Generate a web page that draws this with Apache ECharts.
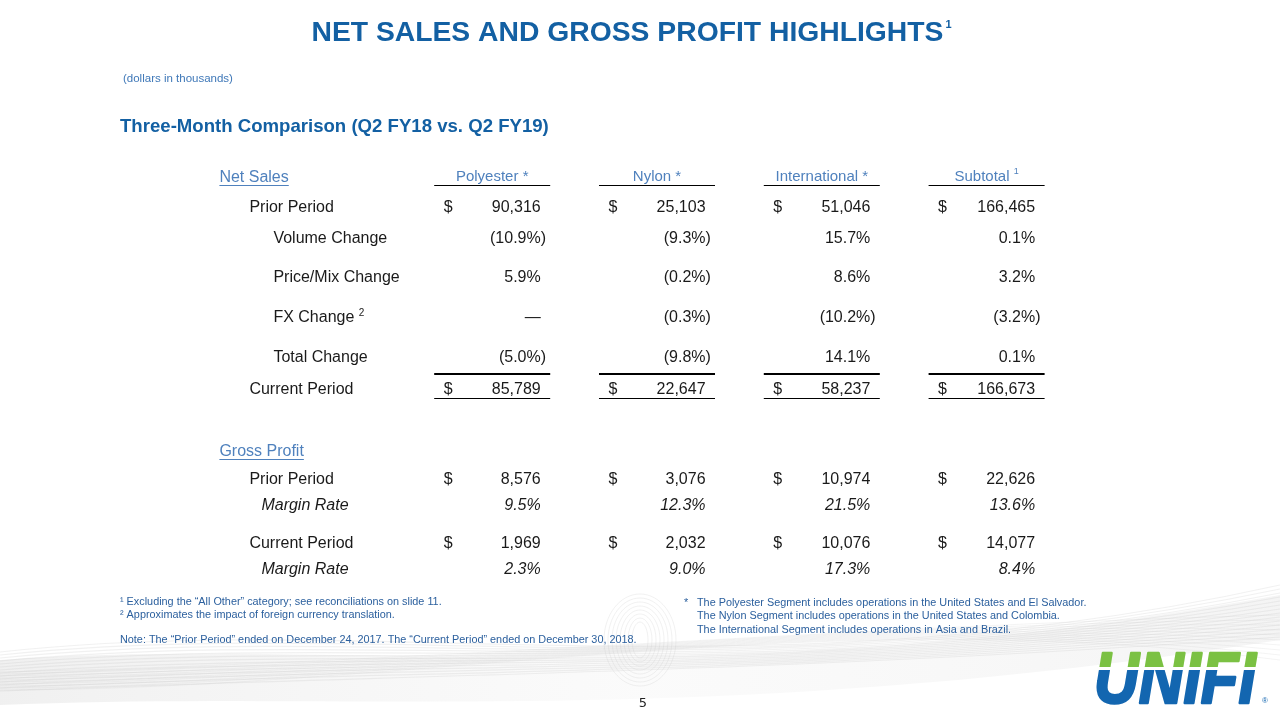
<!DOCTYPE html>
<html><head><meta charset="utf-8">
<script src="https://cdn.jsdelivr.net/npm/echarts@6/dist/echarts.min.js"></script>
<style>html,body{margin:0;padding:0;background:#fff}#c{width:1280px;height:720px}</style>
</head><body><div id="c"></div>
<script>
// ---------------- DATA ----------------
const segments = ['Polyester *', 'Nylon *', 'International *', 'Subtotal'];
const segmentNotes = ['', '', '', '1'];
const netPrior = [90316, 25103, 51046, 166465];
const volumeChange = [-10.9, -9.3, 15.7, 0.1];
const priceMixChange = [5.9, -0.2, 8.6, 3.2];
const fxChange = [null, -0.3, -10.2, -3.2];
const totalChange = [-5.0, -9.8, 14.1, 0.1];
const netCurrent = [85789, 22647, 58237, 166673];
const gpPrior = [8576, 3076, 10974, 22626];
const gpPriorMargin = [9.5, 12.3, 21.5, 13.6];
const gpCurrent = [1969, 2032, 10076, 14077];
const gpCurrentMargin = [2.3, 9.0, 17.3, 8.4];

// ---------------- LAYOUT / STYLE ----------------
const FONT = '"Liberation Sans", Arial, Helvetica, sans-serif';
const INK = '#1a1a1a';
const HEAD_BLUE = '#4f81bd';
const TITLE_BLUE = '#1360a3';
const NOTE_BLUE = '#2c609e';
const BODY = 16;
const NOTE = 10.85;
const DY = 1.5;

const rows = [
  {kind: 'section', label: 'Net Sales', y: 176, indent: -108},
  {label: 'Prior Period', y: 206, indent: -78, values: netPrior, fmt: 'money', dollar: true},
  {label: 'Volume Change', y: 237, indent: -54, values: volumeChange, fmt: 'pct'},
  {label: 'Price/Mix Change', y: 276, indent: -54, values: priceMixChange, fmt: 'pct'},
  {label: 'FX Change', sup: '2', y: 316, indent: -54, values: fxChange, fmt: 'pct'},
  {label: 'Total Change', y: 356, indent: -54, values: totalChange, fmt: 'pct'},
  {label: 'Current Period', y: 388, indent: -78, values: netCurrent, fmt: 'money', dollar: true},
  {kind: 'section', label: 'Gross Profit', y: 450, indent: -108},
  {label: 'Prior Period', y: 478, indent: -78, values: gpPrior, fmt: 'money', dollar: true},
  {label: 'Margin Rate', y: 504, indent: -66, values: gpPriorMargin, fmt: 'pct', italic: true},
  {label: 'Current Period', y: 542, indent: -78, values: gpCurrent, fmt: 'money', dollar: true},
  {label: 'Margin Rate', y: 568, indent: -66, values: gpCurrentMargin, fmt: 'pct', italic: true}
];
const HEADER_Y = 176;
const rules = [{y: 185.5, w: 1}, {y: 374, w: 2}, {y: 398.5, w: 1}];

const fmtMoney = v => v.toLocaleString('en-US');
const fmtPct = v => v == null ? '\u2014' : (v < 0 ? '(' + Math.abs(v).toFixed(1) + '%)' : v.toFixed(1) + '%');

const measure = (() => {
  const cx = document.createElement('canvas').getContext('2d');
  return (t, size, weight, style) => {
    cx.font = (style || 'normal') + ' ' + (weight || 'normal') + ' ' + size + 'px "Liberation Sans"';
    return cx.measureText(t).width;
  };
})();

// build cell list
const cells = [];
segments.forEach((s, i) => cells.push({col: i + 1, y: HEADER_Y, kind: 'head', text: s, sup: segmentNotes[i]}));
rows.forEach(r => {
  if (r.kind === 'section') { cells.push({col: 0, y: r.y, kind: 'section', text: r.label, indent: r.indent}); return; }
  cells.push({col: 0, y: r.y, kind: 'label', text: r.label, sup: r.sup, indent: r.indent, italic: r.italic});
  r.values.forEach((v, i) => {
    if (r.dollar) cells.push({col: i + 1, y: r.y, kind: 'dollar', text: '$'});
    cells.push({col: i + 1, y: r.y, kind: 'num', text: r.fmt === 'money' ? fmtMoney(v) : fmtPct(v), italic: r.italic});
  });
});
const ruleCells = [];
rules.forEach(r => segments.forEach((s, i) => ruleCells.push({col: i + 1, y: r.y, w: r.w})));

function txt(x, y, text, o) {
  o = o || {};
  return {type: 'text', x: x, y: y + DY, style: Object.assign({
    text: text, fill: INK, fontFamily: FONT, fontSize: BODY, align: 'left', verticalAlign: 'middle'
  }, o)};
}

function renderCell(params, api) {
  const c = cells[params.dataIndex];
  const p = api.coord([api.value(0), api.value(1)]);
  const bw = api.size([1, 0])[0];
  const off = bw * 0.2945;
  if (c.kind === 'head') {
    const t = c.sup ? '{h|' + c.text + ' }{s|' + c.sup + '}' : '{h|' + c.text + '}';
    return txt(p[0], p[1] - 1, t, {align: 'center', fill: HEAD_BLUE, fontSize: 15,
      rich: {h: {fontSize: 15, fill: HEAD_BLUE, fontFamily: FONT}, s: {fontSize: 9, fill: HEAD_BLUE, fontFamily: FONT, padding: [0, 0, 9, 0]}}});
  }
  if (c.kind === 'section') {
    const x = p[0] + c.indent;
    const w = measure(c.text, BODY);
    return {type: 'group', children: [
      txt(x, p[1], c.text, {fill: HEAD_BLUE}),
      {type: 'line', shape: {x1: x, y1: p[1] + 9.5, x2: x + w, y2: p[1] + 9.5}, style: {stroke: HEAD_BLUE, lineWidth: 1}}
    ]};
  }
  if (c.kind === 'label') {
    const t = c.sup ? '{a|' + c.text + ' }{s|' + c.sup + '}' : c.text;
    return txt(p[0] + c.indent, p[1], t, {fontStyle: c.italic ? 'italic' : 'normal',
      rich: {a: {fontSize: BODY, fill: INK, fontFamily: FONT}, s: {fontSize: 10, fill: INK, fontFamily: FONT, padding: [0, 0, 9, 0]}}});
  }
  if (c.kind === 'dollar') return txt(p[0] - off, p[1], '$');
  // number
  const hang = /\)$/.test(c.text) ? measure(')', BODY) : 0;
  return txt(p[0] + off + hang, p[1], c.text, {align: 'right', fontStyle: c.italic ? 'italic' : 'normal'});
}

function renderRule(params, api) {
  const c = ruleCells[params.dataIndex];
  const p = api.coord([api.value(0), api.value(1)]);
  const h = api.size([1, 0])[0] * 0.352;
  return {type: 'line', shape: {x1: p[0] - h, y1: p[1], x2: p[0] + h, y2: p[1]}, style: {stroke: '#000', lineWidth: c.w}};
}

// ---------------- DECORATION ----------------
function bez(a, b, c, d, n) {
  const pts = [];
  for (let i = 0; i <= n; i++) {
    const t = i / n, u = 1 - t;
    pts.push([u*u*u*a[0] + 3*u*u*t*b[0] + 3*u*t*t*c[0] + t*t*t*d[0], u*u*u*a[1] + 3*u*u*t*b[1] + 3*u*t*t*c[1] + t*t*t*d[1]]);
  }
  return pts;
}
const swoosh = [];
const bandTop = bez([0, 660], [350, 635], [700, 700], [1280, 595], 40);
const bandBot = bez([0, 705], [350, 690], [700, 730], [1280, 640], 40).reverse();
swoosh.push({type: 'polygon', silent: true, z: -11, shape: {points: bandTop.concat(bandBot)},
  style: {fill: new echarts.graphic.LinearGradient(0, 0, 1, 0, [
    {offset: 0, color: 'rgba(222,222,222,0.45)'}, {offset: 0.5, color: 'rgba(238,238,238,0.25)'}, {offset: 1, color: 'rgba(228,228,228,0.4)'}])}});
for (let k = 0; k < 14; k++) {
  swoosh.push({type: 'bezierCurve', silent: true, z: -10,
    shape: {x1: 0, y1: 652 + k * 3, cpx1: 380, cpy1: 610 + k * 5, cpx2: 760, cpy2: 700 - k * 2, x2: 1280, y2: 585 + k * 4},
    style: {stroke: 'rgba(190,190,190,0.22)', lineWidth: 1.2, fill: null}});
}
for (let k = 0; k < 10; k++) {
  swoosh.push({type: 'bezierCurve', silent: true, z: -10,
    shape: {x1: 0, y1: 690 - k * 2, cpx1: 420, cpy1: 690 - k * 3, cpx2: 820, cpy2: 600 + k * 3, x2: 1280, y2: 660 - k * 5},
    style: {stroke: 'rgba(200,200,200,0.2)', lineWidth: 1, fill: null}});
}
for (let k = 0; k < 8; k++) {
  swoosh.push({type: 'ellipse', silent: true, z: -10,
    shape: {cx: 640, cy: 640, rx: 8 + k * 4, ry: 18 + k * 4},
    style: {stroke: 'rgba(200,200,200,0.25)', lineWidth: 1, fill: null}});
}

// logo drawn on an offscreen canvas (two-tone lettering)
const logo = (() => {
  const cv = document.createElement('canvas');
  cv.width = 190; cv.height = 75;
  const g = cv.getContext('2d');
  const grad = g.createLinearGradient(0, 0, 0, 75);
  grad.addColorStop(0, '#7bc143'); grad.addColorStop(0.36, '#7bc143');
  grad.addColorStop(0.36, '#ffffff'); grad.addColorStop(0.405, '#ffffff');
  grad.addColorStop(0.405, '#1366b0'); grad.addColorStop(1, '#1366b0');
  g.save();
  g.translate(4, 63);
  g.scale(0.86, 1);
  g.font = 'italic bold 72px "Liberation Sans"';
  g.textBaseline = 'alphabetic';
  g.fillStyle = grad; g.strokeStyle = grad; g.lineWidth = 2.5; g.lineJoin = 'round';
  g.translate(0, -63);
  g.fillText('UNIFI', 0, 63);
  g.strokeText('UNIFI', 0, 63);
  g.restore();
  return cv;
})();

const texts = [
  {type: 'text', x: 631.5, y: 33, style: {text: '{t|NET SALES AND GROSS PROFIT HIGHLIGHTS}{s|1}', align: 'center', verticalAlign: 'middle',
    rich: {t: {fontFamily: FONT, fontWeight: 'bold', fontSize: 28.3, fill: TITLE_BLUE}, s: {fontFamily: FONT, fontWeight: 'bold', fontSize: 11, fill: TITLE_BLUE, padding: [0, 0, 17, 2]}}}},
  {type: 'text', x: 123, y: 79, style: {text: '(dollars in thousands)', fontFamily: FONT, fontSize: 11.5, fill: '#3f78b8', verticalAlign: 'middle'}},
  {type: 'text', x: 120, y: 127, style: {text: 'Three-Month Comparison (Q2 FY18 vs. Q2 FY19)', fontFamily: FONT, fontWeight: 'bold', fontSize: 18.6, fill: TITLE_BLUE, verticalAlign: 'middle'}},
  {type: 'text', x: 120, y: 602, style: {text: '\u00b9 Excluding the \u201cAll Other\u201d category; see reconciliations on slide 11.', fontFamily: FONT, fontSize: NOTE, fill: NOTE_BLUE, verticalAlign: 'middle'}},
  {type: 'text', x: 120, y: 615, style: {text: '\u00b2 Approximates the impact of foreign currency translation.', fontFamily: FONT, fontSize: NOTE, fill: NOTE_BLUE, verticalAlign: 'middle'}},
  {type: 'text', x: 120, y: 640, style: {text: 'Note: The \u201cPrior Period\u201d ended on December 24, 2017. The \u201cCurrent Period\u201d ended on December 30, 2018.', fontFamily: FONT, fontSize: NOTE, fill: NOTE_BLUE, verticalAlign: 'middle'}},
  {type: 'text', x: 684, y: 603, style: {text: '*', fontFamily: FONT, fontSize: NOTE, fill: NOTE_BLUE, verticalAlign: 'middle'}},
  {type: 'text', x: 697, y: 603, style: {text: 'The Polyester Segment includes operations in the United States and El Salvador.', fontFamily: FONT, fontSize: NOTE, fill: NOTE_BLUE, verticalAlign: 'middle'}},
  {type: 'text', x: 697, y: 616, style: {text: 'The Nylon Segment includes operations in the United States and Colombia.', fontFamily: FONT, fontSize: NOTE, fill: NOTE_BLUE, verticalAlign: 'middle'}},
  {type: 'text', x: 697, y: 630, style: {text: 'The International Segment includes operations in Asia and Brazil.', fontFamily: FONT, fontSize: NOTE, fill: NOTE_BLUE, verticalAlign: 'middle'}},
  {type: 'text', x: 643, y: 704, style: {text: '5', fontFamily: '"DejaVu Sans", sans-serif', fontSize: 13, fill: '#222', align: 'center', verticalAlign: 'middle'}},
  {type: 'image', x: 1090, y: 640, style: {image: logo, width: 190, height: 75}},
  {type: 'text', x: 1262, y: 701, style: {text: '\u00ae', fontFamily: FONT, fontSize: 8, fill: '#1366b0', verticalAlign: 'middle'}}
];

// ---------------- CHART ----------------
const chart = echarts.init(document.getElementById('c'), null, {renderer: 'canvas'});
chart.setOption({
  backgroundColor: '#ffffff',
  animation: false,
  grid: {left: 245, width: 824, top: 0, height: 720},
  xAxis: {type: 'category', data: ['', ...segments], show: false},
  yAxis: {type: 'value', min: 0, max: 720, inverse: true, show: false},
  graphic: {elements: swoosh.concat(texts)},
  series: [
    {type: 'custom', silent: true, renderItem: renderRule, data: ruleCells.map(c => [c.col, c.y]), encode: {x: 0, y: 1}},
    {type: 'custom', silent: true, renderItem: renderCell, data: cells.map(c => [c.col, c.y]), encode: {x: 0, y: 1}}
  ]
});
</script>
</body></html>
